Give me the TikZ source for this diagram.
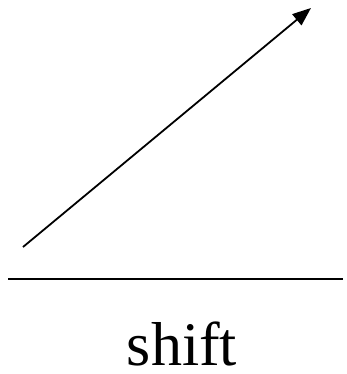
\documentclass[tikz,border=0pt]{standalone}
\usepackage{fontspec}
\setmainfont{Liberation Serif}
\usetikzlibrary{arrows.meta}
\tikzset{
  shiftarrow/.style={-{Triangle[length=6.5mm,width=5mm]}, line width=1.8pt},
  groundline/.style={line width=2pt},
  caption/.style={anchor=base, inner sep=0pt, font=\fontsize{62}{70}\selectfont}
}
\begin{document}
\begin{tikzpicture}[x=1pt, y=-1pt]
  \useasboundingbox (0,0) rectangle (346,374);
  \coordinate (from) at (23,247);
  \coordinate (to) at (311,8);
  \coordinate (left) at (8,279);
  \coordinate (right) at (343,279);
  \node[caption] (label) at (182,365) {shift};
  \draw[shiftarrow] (from) -- (to);
  \draw[groundline] (left) -- (right);
\end{tikzpicture}
\end{document}
